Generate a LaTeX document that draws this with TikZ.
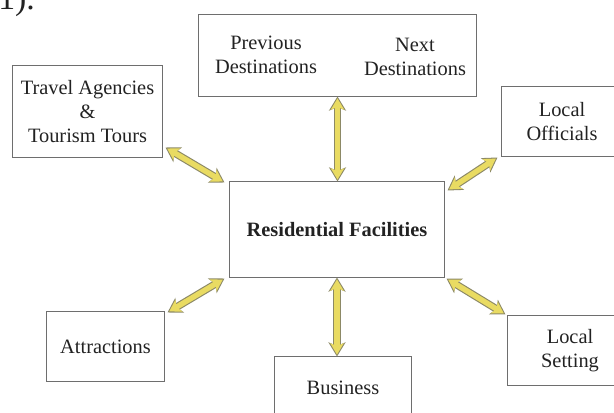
\documentclass[tikz,border=0pt]{standalone}
\usepackage{fontspec}
\setmainfont{Liberation Serif}
\usetikzlibrary{arrows.meta,positioning}

\definecolor{boxline}{HTML}{6E6E6E}
\definecolor{labeltext}{HTML}{222222}
\definecolor{arrowfill}{HTML}{E9DB62}
\definecolor{arrowline}{HTML}{8C8966}

\begin{document}
\begin{tikzpicture}[
    x=0.025cm, y=-0.025cm,
    box/.style={draw=boxline, line width=0.7pt, rectangle, align=center, text=labeltext, font=\fontsize{14.5}{17}\selectfont},
    label/.style={align=center, text=labeltext, font=\fontsize{14.5}{17}\selectfont},
    arrowback/.style={<->, >={Stealth[length=10pt,width=12pt,inset=2.5pt]}, draw=arrowline, line width=5.4pt},
    arrowfront/.style={<->, >={Stealth[length=8pt,width=9.5pt,inset=2pt]}, draw=arrowfill, line width=3.8pt, shorten <=1.4pt, shorten >=1.4pt}
]
    \useasboundingbox (0,0) rectangle (614,413);

    % Place nodes
    \node[anchor=base west, inner sep=0pt, text=labeltext, font=\fontsize{24}{28}\selectfont] (figref) at (-2,10) {1).};
    \node[box, minimum width=5.35cm, minimum height=2.375cm, font=\bfseries\fontsize{14.5}{17}\selectfont] (residential) at (337,229.5) {Residential Facilities};
    \node[box, minimum width=6.925cm, minimum height=2.025cm] (destinations) at (337.5,55.5) {};
    \node[label] (previous) at (266,54.5) {Previous\\Destinations};
    \node[label] (next) at (415,56.5) {Next\\Destinations};
    \node[box, minimum width=3.725cm, minimum height=2.275cm] (travel) at (87.5,111.5) {Travel Agencies\\\&\\Tourism Tours};
    \node[box, minimum width=3cm, minimum height=1.725cm] (officials) at (562,121.5) {Local\\Officials};
    \node[box, minimum width=2.925cm, minimum height=1.725cm] (attractions) at (105.5,346.5) {Attractions};
    \node[box, minimum width=3.1cm, minimum height=1.725cm] (setting) at (570,350.5) {Local\\Setting};
    \node[box, minimum width=3.4cm, minimum height=1.55cm] (business) at (343,388) {Business};

    % Arrow ends
    \coordinate (travelend) at ([shift={(3,-10)}]travel.south east);
    \coordinate (resnw) at ([shift={(-5,1)}]residential.north west);
    \coordinate (officialsend) at ([shift={(-4,1)}]officials.south west);
    \coordinate (resne) at ([shift={(3,9)}]residential.north east);
    \coordinate (attractionsend) at ([shift={(3,1)}]attractions.north east);
    \coordinate (ressw) at ([shift={(-5,1)}]residential.south west);
    \coordinate (settingend) at ([shift={(-2,-1)}]setting.north west);
    \coordinate (resse) at ([shift={(2,1)}]residential.south east);
    \coordinate (destend) at (destinations.south);
    \coordinate (resn) at (destinations.south |- residential.north);
    \coordinate (ress) at (residential.south);
    \coordinate (businessend) at (residential.south |- business.north);

    % Add connections
    \foreach \from/\to in {destend/resn, ress/businessend, travelend/resnw, officialsend/resne, attractionsend/ressw, settingend/resse} {
        \draw[arrowback] (\from) -- (\to);
        \draw[arrowfront] (\from) -- (\to);
    }
\end{tikzpicture}
\end{document}
